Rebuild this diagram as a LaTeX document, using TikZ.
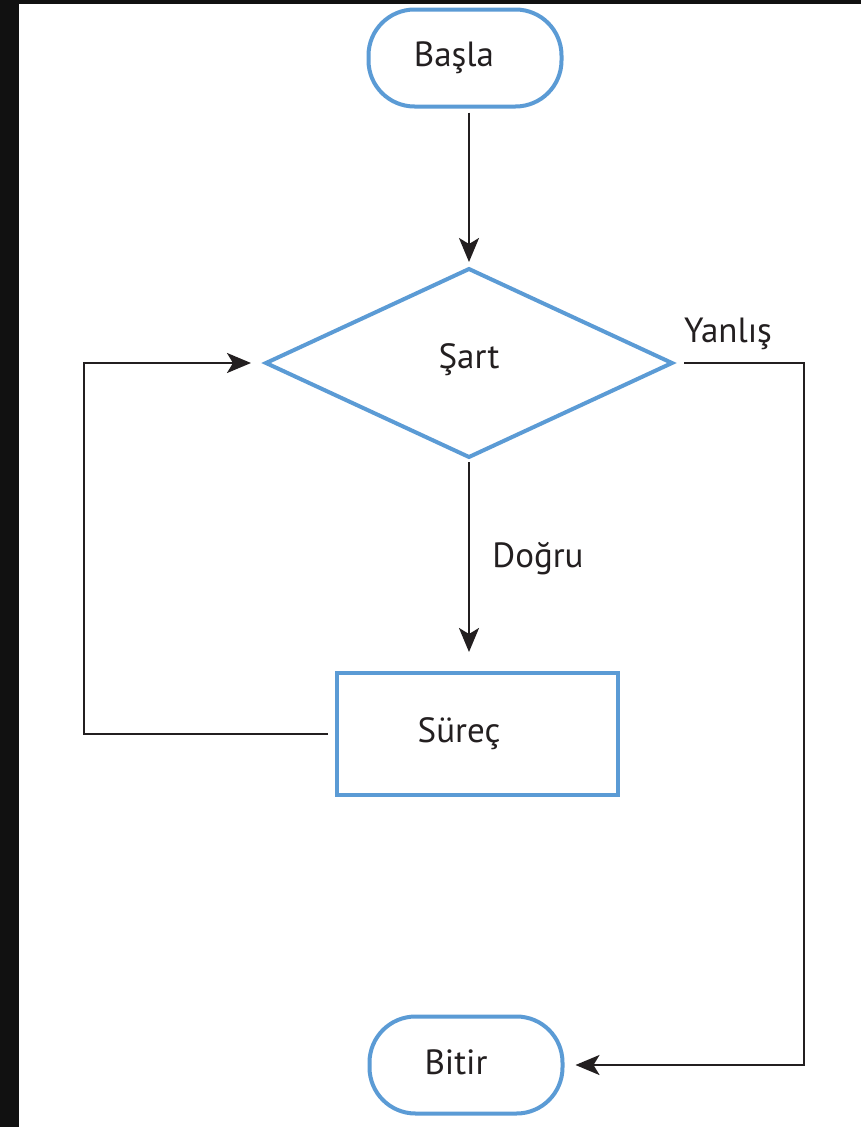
\documentclass[tikz,border=0pt]{standalone}
\usepackage{fontspec}
\setmainfont{PT Sans}
\usetikzlibrary{shapes.geometric,arrows.meta}
\definecolor{fcblue}{HTML}{5B9BD5}
\definecolor{fcink}{HTML}{231F20}
\definecolor{fcdark}{HTML}{111111}
\tikzset{
  flowshape/.style={draw=fcblue, line width=4pt, fill=white, inner sep=0pt, outer sep=0pt},
  terminal/.style={flowshape, rectangle, rounded corners=46pt, minimum width=193pt, minimum height=97pt},
  decision/.style={flowshape, diamond, minimum width=406pt, minimum height=188pt},
  process/.style={flowshape, rectangle, minimum width=281pt, minimum height=122pt},
  lbl/.style={text=fcink, anchor=base, inner sep=0pt, font=\fontsize{35}{42}\selectfont},
  conn/.style={draw=fcink, line width=2.2pt, -{Stealth[length=24pt,width=20pt,inset=6pt]}}
}
\begin{document}
\begin{tikzpicture}[x=1pt,y=-1pt]
\useasboundingbox (0,0) rectangle (861,1127);
\fill[fcdark] (0,0) rectangle (861,1127);
\fill[white] (19,4) rectangle (861,1127);

\node[terminal] (basla) at (465,58) {};
\node[decision] (sart) at (469,363) {};
\node[process] (surec) at (477.5,734) {};
\node[terminal] (bitir) at (466,1065) {};

\node[lbl] (tbasla) at (454,66) {Başla};
\node[lbl] (tsart) at (469,368) {Şart};
\node[lbl] (tsurec) at (459,742) {Süreç};
\node[lbl] (tbitir) at (456,1074) {Bitir};
\node[lbl] (tdogru) at (538,567) {Doğru};
\node[lbl] (tyanlis) at (728,342) {Yanlış};

\coordinate (lc) at (84,734);
\coordinate (rc) at (804,700);

\draw[conn, shorten <=6pt, shorten >=7pt] (basla.south -| sart.north) -- (sart.north);
\draw[conn, shorten <=5pt, shorten >=21pt] (sart.south) -- (surec.north -| sart.south);
\draw[conn, shorten <=9pt, shorten >=15pt] (surec.west) -- (lc) |- (sart.west);
\draw[conn, shorten <=12pt, shorten >=13pt] (sart.east) -| (rc) |- (bitir.east);
\end{tikzpicture}
\end{document}
